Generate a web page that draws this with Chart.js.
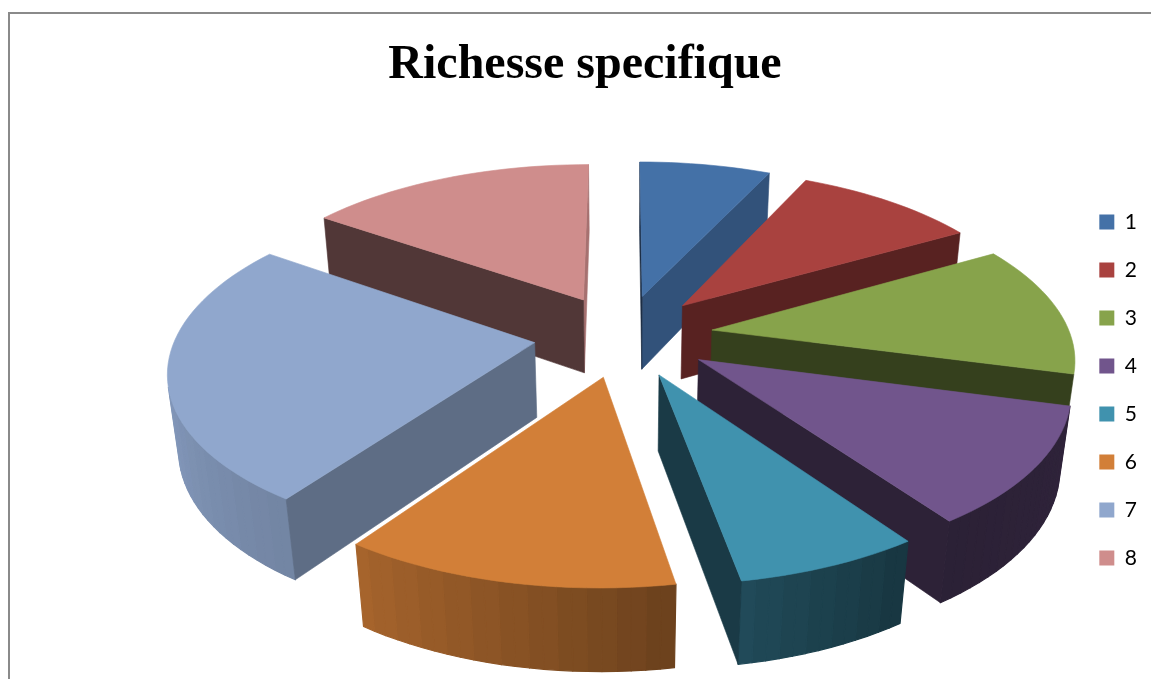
<!DOCTYPE html>
<html>
<head>
<meta charset="utf-8">
<title>Richesse specifique</title>
<script src="https://cdn.jsdelivr.net/npm/chart.js@4"></script>
<style>
  html, body { margin: 0; padding: 0; width: 1151px; height: 679px; overflow: hidden; background: #fff; }
  #frame { position: absolute; left: 8px; top: 12px; width: 1170px; height: 780px; border: 2px solid #8a8a8a; background: #fff; }
  canvas { display: block; }
</style>
</head>
<body>
<div id="frame"><canvas id="chart" width="1150" height="752"></canvas></div>
<script>
const categories = ['1', '2', '3', '4', '5', '6', '7', '8'];
const richness = [5, 7, 9, 8, 5, 9, 18, 11];
const sliceColours = ['#4471A7', '#A9423F', '#87A34B', '#71558C', '#4092AE', '#D27F38', '#90A7CD', '#CF8D8C'];
const titleText = 'Richesse specifique';

// Perspective camera for the tilted pie, in canvas pixels
const camera = { centerX: 613.5, centerY: 326, backShift: -10, distance: 2400, tilt: 0.463, depth: 76.5, converge: 0.77 };

// Brightness of the curved rim and of the flat cut faces, by direction of the face in degrees
const rimLight = [[0, .95], [100, .42], [145, .38], [170, .52], [190, .65], [215, .8], [270, .95], [360, .95]];
const cutLight = [[0, .8], [90, .8], [115, .73], [125, .65], [150, .52], [195, .39], [260, .4], [360, .5]];

function lookup(table, deg) {
  const d = ((deg % 360) + 360) % 360;
  for (let i = 1; i < table.length; i++) {
    if (d <= table[i][0]) {
      const t = (d - table[i - 1][0]) / (table[i][0] - table[i - 1][0]);
      return table[i - 1][1] + t * (table[i][1] - table[i - 1][1]);
    }
  }
  return table[table.length - 1][1];
}

function shade(hex, f) {
  const n = parseInt(hex.slice(1), 16);
  return `rgb(${Math.round((n >> 16) * f)},${Math.round(((n >> 8) & 255) * f)},${Math.round((n & 255) * f)})`;
}

function project(X, Y, z) {
  const y = Y + camera.backShift;
  const s = camera.distance / (camera.distance - y + camera.converge * z);
  return [camera.centerX + X * s, camera.centerY + camera.tilt * y * s + z * s];
}

function signedArea(p) {
  let a = 0;
  for (let i = 0; i < p.length; i++) {
    const q = p[(i + 1) % p.length];
    a += p[i][0] * q[1] - q[0] * p[i][1];
  }
  return a;
}

function fillPoly(ctx, pts, colour, seam) {
  ctx.beginPath();
  pts.forEach((p, i) => (i ? ctx.lineTo(p[0], p[1]) : ctx.moveTo(p[0], p[1])));
  ctx.closePath();
  ctx.fillStyle = colour;
  ctx.strokeStyle = colour;
  ctx.lineWidth = seam;
  ctx.lineJoin = 'round';
  ctx.fill();
  ctx.stroke();
}

// Draws one arc element as an extruded wedge seen through the camera
function drawWedge(ctx, arc, colour) {
  const { startAngle, endAngle, outerRadius } = arc.getProps(['startAngle', 'endAngle', 'outerRadius'], true);
  const mid = (startAngle + endAngle) / 2;
  const off = arc.options.offset;
  const ox = off * Math.cos(mid), oy = off * Math.sin(mid);
  const rim = (a, z) => project(ox + outerRadius * Math.cos(a), oy + outerRadius * Math.sin(a), z);
  const apex = z => project(ox, oy, z);
  const deg = a => (a + Math.PI / 2) * 180 / Math.PI;
  const steps = Math.max(2, Math.ceil((endAngle - startAngle) / (Math.PI / 90)));
  const at = i => startAngle + (endAngle - startAngle) * i / steps;
  const h = camera.depth;

  // The rim is painted in overlapping bands so that no hairlines show between them
  for (let i = 0; i < steps; i++) {
    const quad = [rim(at(i), 0), rim(at(i + 1), 0), rim(at(i + 1), h), rim(at(i), h)];
    if (signedArea(quad) < 0) {
      const band = Math.floor(i / 2) * 2;
      fillPoly(ctx, quad, shade(colour, lookup(rimLight, deg(at(band)))), 1.2);
    }
  }
  const endFace = [apex(0), rim(endAngle, 0), rim(endAngle, h), apex(h)];
  if (signedArea(endFace) > 0) fillPoly(ctx, endFace, shade(colour, lookup(cutLight, deg(endAngle) + 90)), 0.6);
  const startFace = [apex(0), rim(startAngle, 0), rim(startAngle, h), apex(h)];
  if (signedArea(startFace) < 0) fillPoly(ctx, startFace, shade(colour, lookup(cutLight, deg(startAngle) - 90)), 0.6);

  const top = [apex(0)];
  for (let i = 0; i <= steps; i++) top.push(rim(at(i), 0));
  fillPoly(ctx, top, colour, 0.6);
}

const wedgePlugin = {
  id: 'wedges',
  beforeDatasetDraw(chart, args) {
    const arcs = chart.getDatasetMeta(args.index).data;
    const colours = chart.data.datasets[args.index].backgroundColor;
    const order = arcs.map((arc, i) => i).sort((a, b) => {
      const m = i => (arcs[i].startAngle + arcs[i].endAngle) / 2;
      return Math.sin(m(a)) - Math.sin(m(b));
    });
    order.forEach(i => drawWedge(chart.ctx, arcs[i], colours[i]));
    return false;
  }
};

new Chart(document.getElementById('chart'), {
  type: 'pie',
  plugins: [wedgePlugin],
  data: {
    labels: categories,
    datasets: [{ data: richness, backgroundColor: sliceColours, borderWidth: 0, offset: 90 }]
  },
  options: {
    responsive: false,
    animation: false,
    radius: 360,
    layout: { padding: { left: 13, right: 13 } },
    plugins: {
      title: {
        display: true,
        text: titleText,
        color: '#000',
        font: { family: '"Liberation Serif"', size: 48, weight: 'bold' },
        padding: { top: 23, bottom: 10 }
      },
      legend: {
        position: 'right',
        labels: {
          boxWidth: 15,
          boxHeight: 15,
          padding: 27,
          color: '#000',
          font: { family: 'Lato', size: 21 }
        }
      },
      tooltip: { enabled: false }
    }
  }
});
</script>
</body>
</html>
